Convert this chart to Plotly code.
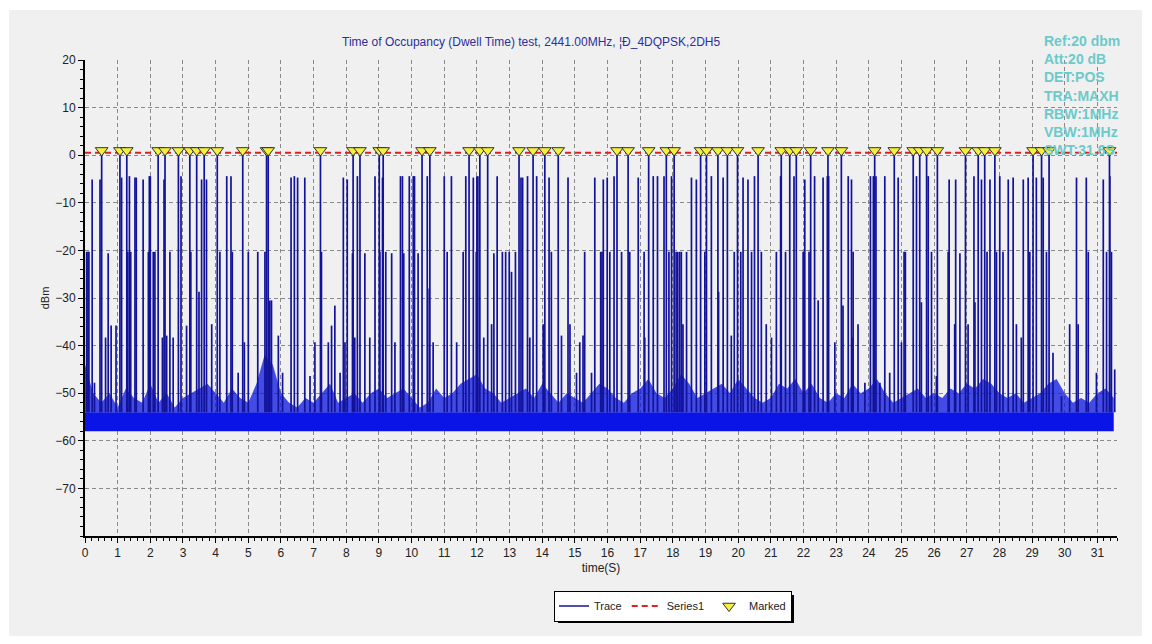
import plotly.graph_objects as go

# ---------------- data ----------------
title_text = "Time of Occupancy (Dwell Time) test, 2441.00MHz, ¦Ð_4DQPSK,2DH5"
info_lines = ["Ref:20 dbm", "Att:20 dB", "DET:POS", "TRA:MAXH", "RBW:1MHz", "VBW:1MHz", "SWT:31.6S"]

x_ticks = list(range(0, 32))
y_ticks = [-70, -60, -50, -40, -30, -20, -10, 0, 10, 20]

threshold_db = 0.5          # Series1 (red dashed line)
marker_db = 1.0             # Marked triangles sit on the threshold line
floor_low = -58.0           # bottom of the noise floor
floor_top = -54.0           # top of the solid part of the noise floor

# times (s) of marked bursts
marked_t = [0.51, 1.07, 1.28, 2.24, 2.45, 2.86, 3.21, 3.42, 3.65, 4.05, 4.83, 5.56, 5.61, 7.21,
            8.21, 8.42, 9.01, 9.13, 10.32, 10.56, 11.76, 12.09, 12.33, 13.29, 13.72, 14.08, 14.49,
            16.29, 16.63, 17.26, 17.80, 18.04, 18.85, 19.03, 19.38, 19.67, 19.98, 20.61, 21.32,
            21.58, 21.78, 22.22, 22.75, 23.16, 24.18, 24.78, 25.36, 25.56, 25.77, 26.10, 26.96,
            27.35, 27.55, 27.86, 29.03, 29.29, 29.52, 31.37]

# other burst spikes: time (s) and peak level (dBm)
spike_t = [0.05, 0.09, 0.12, 0.22, 0.29, 0.46, 0.63, 0.71, 0.80, 0.95, 1.12, 1.31, 1.36, 1.40, 1.53,
           1.57, 1.78, 1.94, 1.97, 2.00, 2.09, 2.14, 2.37, 2.42, 2.50, 2.60, 2.70, 2.94, 3.11, 3.24,
           3.49, 3.57, 3.72, 3.88, 4.13, 4.34, 4.47, 4.51, 4.69, 4.88, 5.00, 5.29, 5.51, 5.66, 5.71,
           5.92, 6.05, 6.31, 6.41, 6.51, 6.73, 6.89, 7.04, 7.24, 7.45, 7.55, 7.65, 7.81, 7.91,
           7.96, 8.03, 8.19, 8.26, 8.34, 8.57, 8.72, 8.88, 9.03, 9.11, 9.21, 9.39, 9.49, 9.66, 9.72,
           9.76, 9.93, 10.05, 10.09, 10.20, 10.48, 10.54, 10.66, 11.00, 11.09, 11.22, 11.38, 11.58,
           11.66, 11.89, 11.98, 12.00, 12.03, 12.21, 12.45, 12.52, 12.62, 12.78, 12.88, 12.99, 13.06,
           13.18, 13.35, 13.40, 13.55, 13.62, 13.83, 14.03, 14.21, 14.28, 14.59, 14.79, 14.85, 15.05,
           15.15, 15.25, 15.30, 15.51,
           15.61, 15.79, 15.83, 15.87, 15.99, 16.07, 16.20, 16.43, 16.68, 16.94, 17.12, 17.14, 17.40,
           17.53, 17.73, 17.88, 17.96, 18.10, 18.15, 18.21, 18.26, 18.31, 18.42, 18.57, 18.72, 18.98,
           19.18, 19.40, 19.54, 19.79, 19.88, 20.08, 20.15, 20.30, 20.41, 20.50, 20.71, 20.86, 21.02,
           21.17, 21.30, 21.45, 21.71, 21.99, 22.04, 22.17, 22.34, 22.45, 22.60, 22.73, 22.77, 22.96,
           23.21, 23.37, 23.52,
           23.47, 23.50, 23.67, 23.88, 24.05, 24.14, 24.22, 24.34, 24.49, 24.64, 24.90, 25.00, 25.08,
           25.12, 25.46, 25.61, 25.82, 25.92, 26.07, 26.43, 26.46, 26.63, 26.66, 26.79, 27.04, 27.22,
           27.25, 27.45, 27.62, 27.71, 27.91, 28.01, 28.11, 28.27, 28.42, 28.52, 28.67, 28.73, 28.88,
           28.93, 29.13, 29.34, 29.44, 29.64, 29.90, 30.15, 30.36, 30.41, 30.66, 30.72, 30.97, 31.18,
           31.28, 31.38, 31.43, 31.53]
spike_db = [-20.3, -20.3, -20.3, -5.1, -47.8, -5.1, -38.3, -20.6, -35.8, -35.8, -4.7, -20.3, -4.4, -20.3, -4.7,
            -4.7, -5.1, -20.3, -4.4, -4.4, -20.3, -20.3, -38.3, -5.1, -37.9, -20.3, -38.3, -4.4, -35.8, -20.3,
            -28.7, -5.1, -5.1, -35.5, -20.3, -4.4, -4.4, -20.3, -45.7, -39.3, -20.3, -20.3, -20.3, -30.5, -30.5,
            -37.9, -45.7, -4.7, -4.4, -4.7, -4.7, -46.4, -39.3, -20.3, -39.3, -35.8, -31.6, -45.7, -4.7,
            -39.3, -5.1, -20.6, -38.3, -4.4, -20.6, -38.3, -4.4, -20.3, -4.7, -20.3, -20.6, -39.3, -4.4, -4.4,
            -20.6, -4.4, -4.4, -4.4, -20.6, -4.4, -28.0, -39.3, -4.4, -20.3, -4.4, -39.3, -20.3,
            -4.4, -4.7, -20.3, -4.4, -4.4, -38.3, -35.5, -20.6, -4.4, -20.3, -20.3, -20.3, -24.5,
            -20.3, -4.7, -4.7, -4.4, -38.3, -4.4, -35.5, -4.7, -20.3, -37.9, -4.7, -35.5, -45.7,
            -39.3, -37.9, -20.3, -45.7,
            -4.7, -20.3, -20.3, -5.1, -4.7, -20.3, -4.4, -20.3, -20.3, -4.7, -20.3, -38.3, -4.4,
            -4.4, -4.4, -20.3, -4.4, -20.3, -20.3, -20.3, -20.3, -35.5, -20.3, -4.7, -5.1, -20.3,
            -4.4, -28.7, -4.7, -37.9, -20.3, -20.3, -4.7, -5.1, -20.3, -4.4, -20.3, -35.5, -38.3,
            -20.3, -4.4, -20.3, -4.4, -20.3, -5.1, -20.3, -4.4, -30.5, -4.7, -4.4, -4.4, -39.3,
            -31.6, -4.4, -20.3,
            -5.1, -38.3, -35.5, -47.8, -4.4, -4.4, -4.4, -47.8, -4.4, -45.7, -4.7, -39.3, -20.3,
            -20.3, -4.4, -30.9, -4.4, -20.3, -46.4, -20.3, -5.1, -35.5, -5.1, -20.6, -35.5, -4.4,
            -30.9, -5.1, -20.3, -5.1, -20.3, -4.4, -20.3, -5.1, -4.7, -35.5, -38.3, -5.1, -4.7,
            -20.3, -4.7, -4.7, -20.3, -41.5, -50.6, -35.5, -4.7, -35.5, -4.7, -20.3, -45.7, -5.1,
            -20.3, -4.4, -20.3, -45.0]

# upper edge of the dense noise "grass", sampled every 0.25 s
grass_t = [i * 0.25 for i in range(127)]
grass_db = [-44, -50, -52, -50, -53, -49, -51, -52, -48, -52, -50, -53, -51, -50, -49, -48,
            -50, -52, -49, -51, -52, -48, -42, -44, -50, -52, -53, -51, -52, -50, -48, -52,
            -51, -50, -52, -50, -49, -51, -50, -49, -51, -53, -52, -49, -51, -50, -48, -47,
            -46, -49, -50, -52, -51, -50, -49, -51, -48, -50, -52, -50, -51, -52, -50, -48,
            -49, -51, -52, -50, -49, -47, -50, -51, -49, -46, -48, -51, -50, -49, -48, -50,
            -47, -49, -51, -52, -51, -48, -49, -47, -50, -48, -51, -52, -50, -51, -48, -50,
            -49, -47, -50, -52, -51, -50, -49, -51, -50, -51, -49, -50, -48, -49, -47, -48,
            -50, -51, -50, -52, -51, -50, -48, -47, -50, -52, -51, -52, -50, -49, -51]

x_max = 31.6
y_min, y_max = -80.0, 20.0

# ---------------- figure ----------------
fig = go.Figure()

# noise "grass" (semi-dense part)
fig.add_trace(go.Scatter(
    x=grass_t + grass_t[::-1],
    y=grass_db + [floor_top] * len(grass_t),
    fill="toself", fillcolor="rgba(10,20,225,0.75)", line=dict(width=0),
    mode="lines", hoverinfo="skip", showlegend=False, legendgroup="trace"))
# solid noise floor
fig.add_trace(go.Scatter(
    x=[grass_t[0], grass_t[-1], grass_t[-1], grass_t[0]],
    y=[floor_low, floor_low, floor_top, floor_top],
    fill="toself", fillcolor="rgb(10,20,230)", line=dict(width=0),
    mode="lines", hoverinfo="skip", showlegend=False, legendgroup="trace"))

# burst spikes (vertical segments from the floor up to the peak)
sx, sy = [], []
all_t = spike_t + marked_t
all_db = spike_db + [threshold_db] * len(marked_t)
for t, p in zip(all_t, all_db):
    sx += [t, t, None]
    sy += [floor_top, p, None]
fig.add_trace(go.Scatter(
    x=sx, y=sy, mode="lines", name="Trace",
    line=dict(color="#12129a", width=1.7), legendgroup="trace"))

# threshold line
fig.add_trace(go.Scatter(
    x=[0, x_max], y=[threshold_db, threshold_db], mode="lines", name="Series1",
    line=dict(color="#e02020", width=2, dash="6px,4px")))

# markers
fig.add_trace(go.Scatter(
    x=marked_t, y=[marker_db] * len(marked_t), mode="markers", name="Marked",
    marker=dict(symbol="triangle-down", size=11, color="#f4f040",
                line=dict(color="#303030", width=1))))

# The page body adds an 8 px offset; screen coordinates below are converted.
OFF = 8
W, H = 1136, 628
L, T = 85 - OFF, 60 - OFF
R = W - (1117 - OFF)
B = H - (536 - OFF)
pw, ph = W - L - R, H - T - B

def px_x(px):
    return (px - OFF - L) / pw

def px_y(py):
    return (H - B - (py - OFF)) / ph

leg_cx, leg_cy = 673, 606
leg_w, leg_h = 236, 28

fig.update_layout(
    width=W, height=H,
    margin=dict(l=L, r=R, t=T, b=B, autoexpand=False),
    paper_bgcolor="white", plot_bgcolor="white",
    font=dict(family="Liberation Sans, Arial, sans-serif", size=12, color="#222222"),
    showlegend=True,
    legend=dict(orientation="h", x=px_x(leg_cx), xanchor="center", y=px_y(leg_cy), yanchor="middle",
                bgcolor="white", bordercolor="black", borderwidth=1,
                font=dict(size=11, color="#222222"), itemwidth=30, tracegroupgap=0),
    xaxis=dict(range=[0, x_max], tickvals=x_ticks, ticks="outside", ticklen=5, tickcolor="black",
               showline=True, linecolor="black", linewidth=2, mirror=False, automargin=False,
               showgrid=True, gridcolor="#8a8a8a", griddash="4px,3px", gridwidth=1,
               zeroline=False,
               minor=dict(dtick=0.2, ticks="outside", ticklen=3, tickcolor="black", showgrid=False),
               title=dict(text="time(S)", font=dict(size=12), standoff=4)),
    yaxis=dict(range=[y_min, y_max], tickvals=y_ticks, ticks="outside", ticklen=5, tickcolor="black",
               showline=True, linecolor="black", linewidth=2, mirror=False, automargin=False,
               showgrid=True, gridcolor="#8a8a8a", griddash="4px,3px", gridwidth=1,
               zeroline=False,
               minor=dict(dtick=2, ticks="outside", ticklen=3, tickcolor="black", showgrid=False),
               title=dict(text="dBm", font=dict(size=11), standoff=3)),
    shapes=[
        # grey panel behind the chart
        dict(type="rect", xref="paper", yref="paper", layer="below",
             x0=px_x(9), x1=px_x(1142), y0=px_y(636), y1=px_y(10),
             fillcolor="#f0f0f0", line=dict(width=0)),
        # legend drop shadow
        dict(type="rect", xref="paper", yref="paper", layer="below",
             x0=px_x(leg_cx - leg_w / 2 + 3), x1=px_x(leg_cx + leg_w / 2 + 3),
             y0=px_y(leg_cy + leg_h / 2 + 3), y1=px_y(leg_cy - leg_h / 2 + 3),
             fillcolor="black", line=dict(width=0)),
    ],
    annotations=[
        dict(text=title_text, xref="paper", yref="paper", x=px_x(531), y=px_y(42),
             xanchor="center", yanchor="middle", showarrow=False,
             font=dict(size=12, color="#2e2e9c")),
        dict(text="<br>".join("<b>%s</b>" % s for s in info_lines), xref="paper", yref="paper",
             x=px_x(1042), y=px_y(31), xanchor="left", yanchor="top", align="left",
             showarrow=False, font=dict(size=14, color="#6ccaca")),
    ],
)

fig.write_html("out.html")
